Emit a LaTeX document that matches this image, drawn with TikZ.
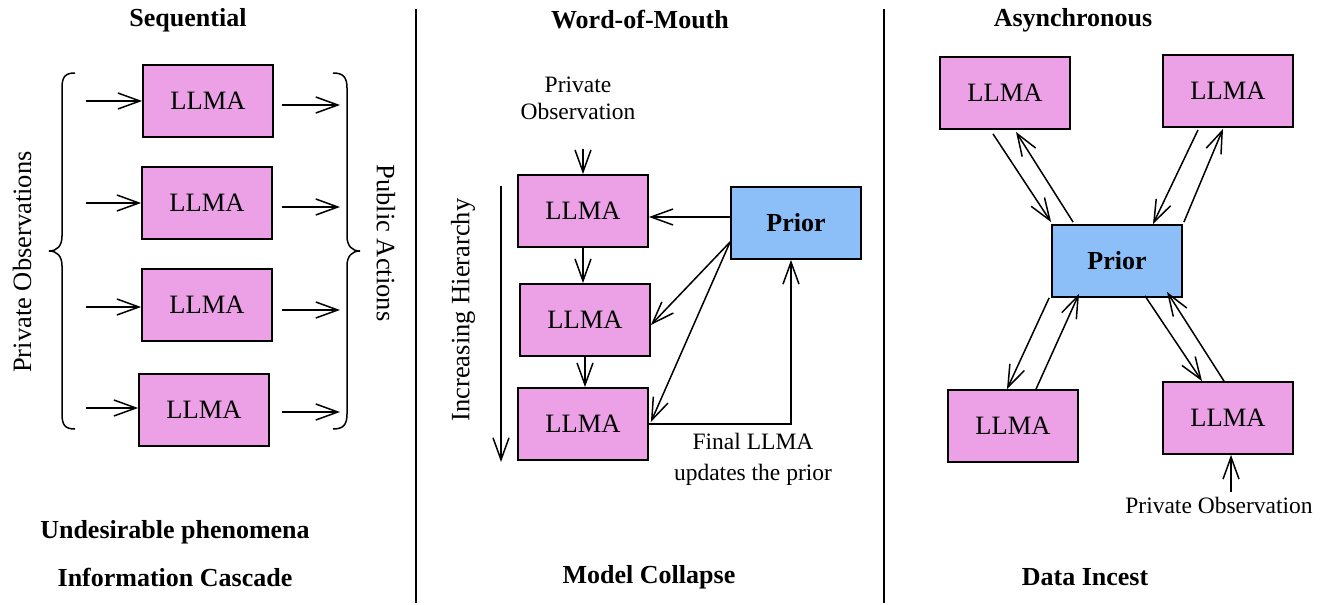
\documentclass[tikz,border=0pt]{standalone}
\usepackage{fontspec}
\setmainfont{Liberation Serif}
\usetikzlibrary{arrows.meta,calc}
\definecolor{llmapink}{RGB}{236,160,230}
\definecolor{priorblue}{RGB}{140,190,248}
\tikzset{
  llma/.style={draw=black, line width=1.8pt, fill=llmapink, minimum width=130pt, minimum height=72pt, inner sep=0pt, font=\fontsize{26.5}{30}\selectfont},
  prior/.style={draw=black, line width=1.8pt, fill=priorblue, minimum width=130pt, minimum height=72pt, inner sep=0pt, font=\fontsize{26}{30}\selectfont\bfseries},
  arr/.style={line width=1.5pt, -{Straight Barb[length=22pt,width=16pt,line width=1.5pt]}},
  ttl/.style={font=\fontsize{26}{30}\selectfont\bfseries},
  lbl/.style={font=\fontsize{26.5}{30}\selectfont},
  sml/.style={font=\fontsize{23.5}{27}\selectfont, align=center},
  smlb/.style={font=\fontsize{23.5}{31}\selectfont, align=center},
  divider/.style={line width=1.3pt},
  brc/.style={line width=1.5pt}
}
\begin{document}
\begin{tikzpicture}[x=1pt,y=-1pt]
\useasboundingbox (0,0) rectangle (1326,605);
% dividers
\coordinate (d1t) at (416,9); \coordinate (d1b) at (416,603);
\coordinate (d2t) at (884,9); \coordinate (d2b) at (884,603);
\draw[divider] (d1t) -- (d1b);
\draw[divider] (d2t) -- (d2b);
% ---------- left panel ----------
\node[ttl] (t1) at (188,20) {Sequential};
\node[llma] (s1) at (208,101) {LLMA};
\node[llma] (s2) at (207,203) {LLMA};
\node[llma] (s3) at (207,305) {LLMA};
\node[llma] (s4) at (204,410) {LLMA};
\foreach \i/\y in {1/101,2/203,3/307,4/408}{
  \coordinate (in\i) at (86,\y);
  \draw[arr] (in\i) -- (in\i -| s\i.west);
}
\foreach \i/\y in {1/105,2/207,3/310,4/412}{
  \coordinate (oa\i) at (282,\y);
  \coordinate (ob\i) at (340,\y);
  \draw[arr] (oa\i) -- (ob\i);
}
\draw[brc] (75,73) .. controls (65,73) and (62,77) .. (62,88) -- (62,236)
  .. controls (62,246) and (57,251) .. (49,251)
  .. controls (57,251) and (62,256) .. (62,266) -- (62,414)
  .. controls (62,425) and (65,429) .. (75,429);
\draw[brc] (333,73) .. controls (343,73) and (347,77) .. (347,88) -- (347,236)
  .. controls (347,246) and (352,251) .. (360,251)
  .. controls (352,251) and (347,256) .. (347,266) -- (347,414)
  .. controls (347,425) and (343,429) .. (333,429);
\node[lbl, rotate=90] (po) at (22,262) {Private Observations};
\node[lbl, rotate=-90] (pa) at (386,243) {Public Actions};
\node[ttl] (u1) at (175,532) {Undesirable phenomena};
\node[ttl] (u2) at (175,577) {Information Cascade};
% ---------- middle panel ----------
\node[ttl] (t2) at (640,20) {Word-of-Mouth};
\node[sml] (mpo) at (578,98) {Private\\Observation};
\node[llma] (m1) at (583,211) {LLMA};
\node[llma] (m2) at (585,320) {LLMA};
\node[llma] (m3) at (583,424) {LLMA};
\node[prior] (mp) at (796,223) {Prior};
\coordinate (mpoa) at (583,149);
\draw[arr] (mpoa) -- (m1.north);
\draw[arr] (m1.south) -- (m1.south |- m2.north);
\draw[arr] (m2.south) -- (m2.south |- m3.north);
\draw[arr] ($(mp.west)+(0,-6)$) coordinate (mpl) -- (mpl -| m1.east);
\draw[arr] ($(mp.west)+(0,19)$) -- ($(m2.east)+(0,5)$);
\draw[arr] ($(mp.west)+(0,19)$) -- ($(m3.east)+(2,-2)$);
\draw[arr] (m3.east) -| ($(mp.south)+(-5,0)$);
\node[smlb] (fin) at (753,459) {Final LLMA\\updates the prior};
\node[lbl, rotate=90] (ih) at (463,310) {Increasing Hierarchy};
\coordinate (iha) at (501,186); \coordinate (ihb) at (501,462);
\draw[arr] (iha) -- (ihb);
\node[ttl] (mc) at (649,577) {Model Collapse};
% ---------- right panel ----------
\node[ttl] (t3) at (1073,20) {Asynchronous};
\node[llma] (tl) at (1005,93) {LLMA};
\node[llma] (tr) at (1228,91) {LLMA};
\node[prior] (rp) at (1117,261) {Prior};
\node[llma] (bl) at (1013,426) {LLMA};
\node[llma] (br) at (1228,418) {LLMA};
\draw[arr] ($(tl.south)+(-12,4)$) -- ($(rp.north west)+(0,-2)$);
\draw[arr] ($(rp.north west)+(22,-2)$) -- ($(tl.south)+(11,2)$);
\draw[arr] ($(tr.south)+(-30,2)$) -- ($(rp.north)+(36,0)$);
\draw[arr] ($(rp.north east)+(1,-2)$) -- ($(tr.south)+(-5,1)$);
\draw[arr] ($(rp.south west)+(-2,0)$) -- ($(bl.north)+(-6,0)$);
\draw[arr] ($(bl.north)+(23,0)$) -- ($(rp.south)+(-38,-4)$);
\draw[arr] ($(rp.south)+(28,-2)$) -- ($(br.north)+(-26,0)$);
\draw[arr] ($(br.north)+(-4,0)$) -- ($(rp.south)+(50,-6)$);
\node[sml] (rpo) at (1219,505) {Private Observation};
\coordinate (rpoa) at (1231,492);
\draw[arr] (rpoa) -- (rpoa |- br.south);
\node[ttl] (di) at (1085,577) {Data Incest};
\end{tikzpicture}
\end{document}
